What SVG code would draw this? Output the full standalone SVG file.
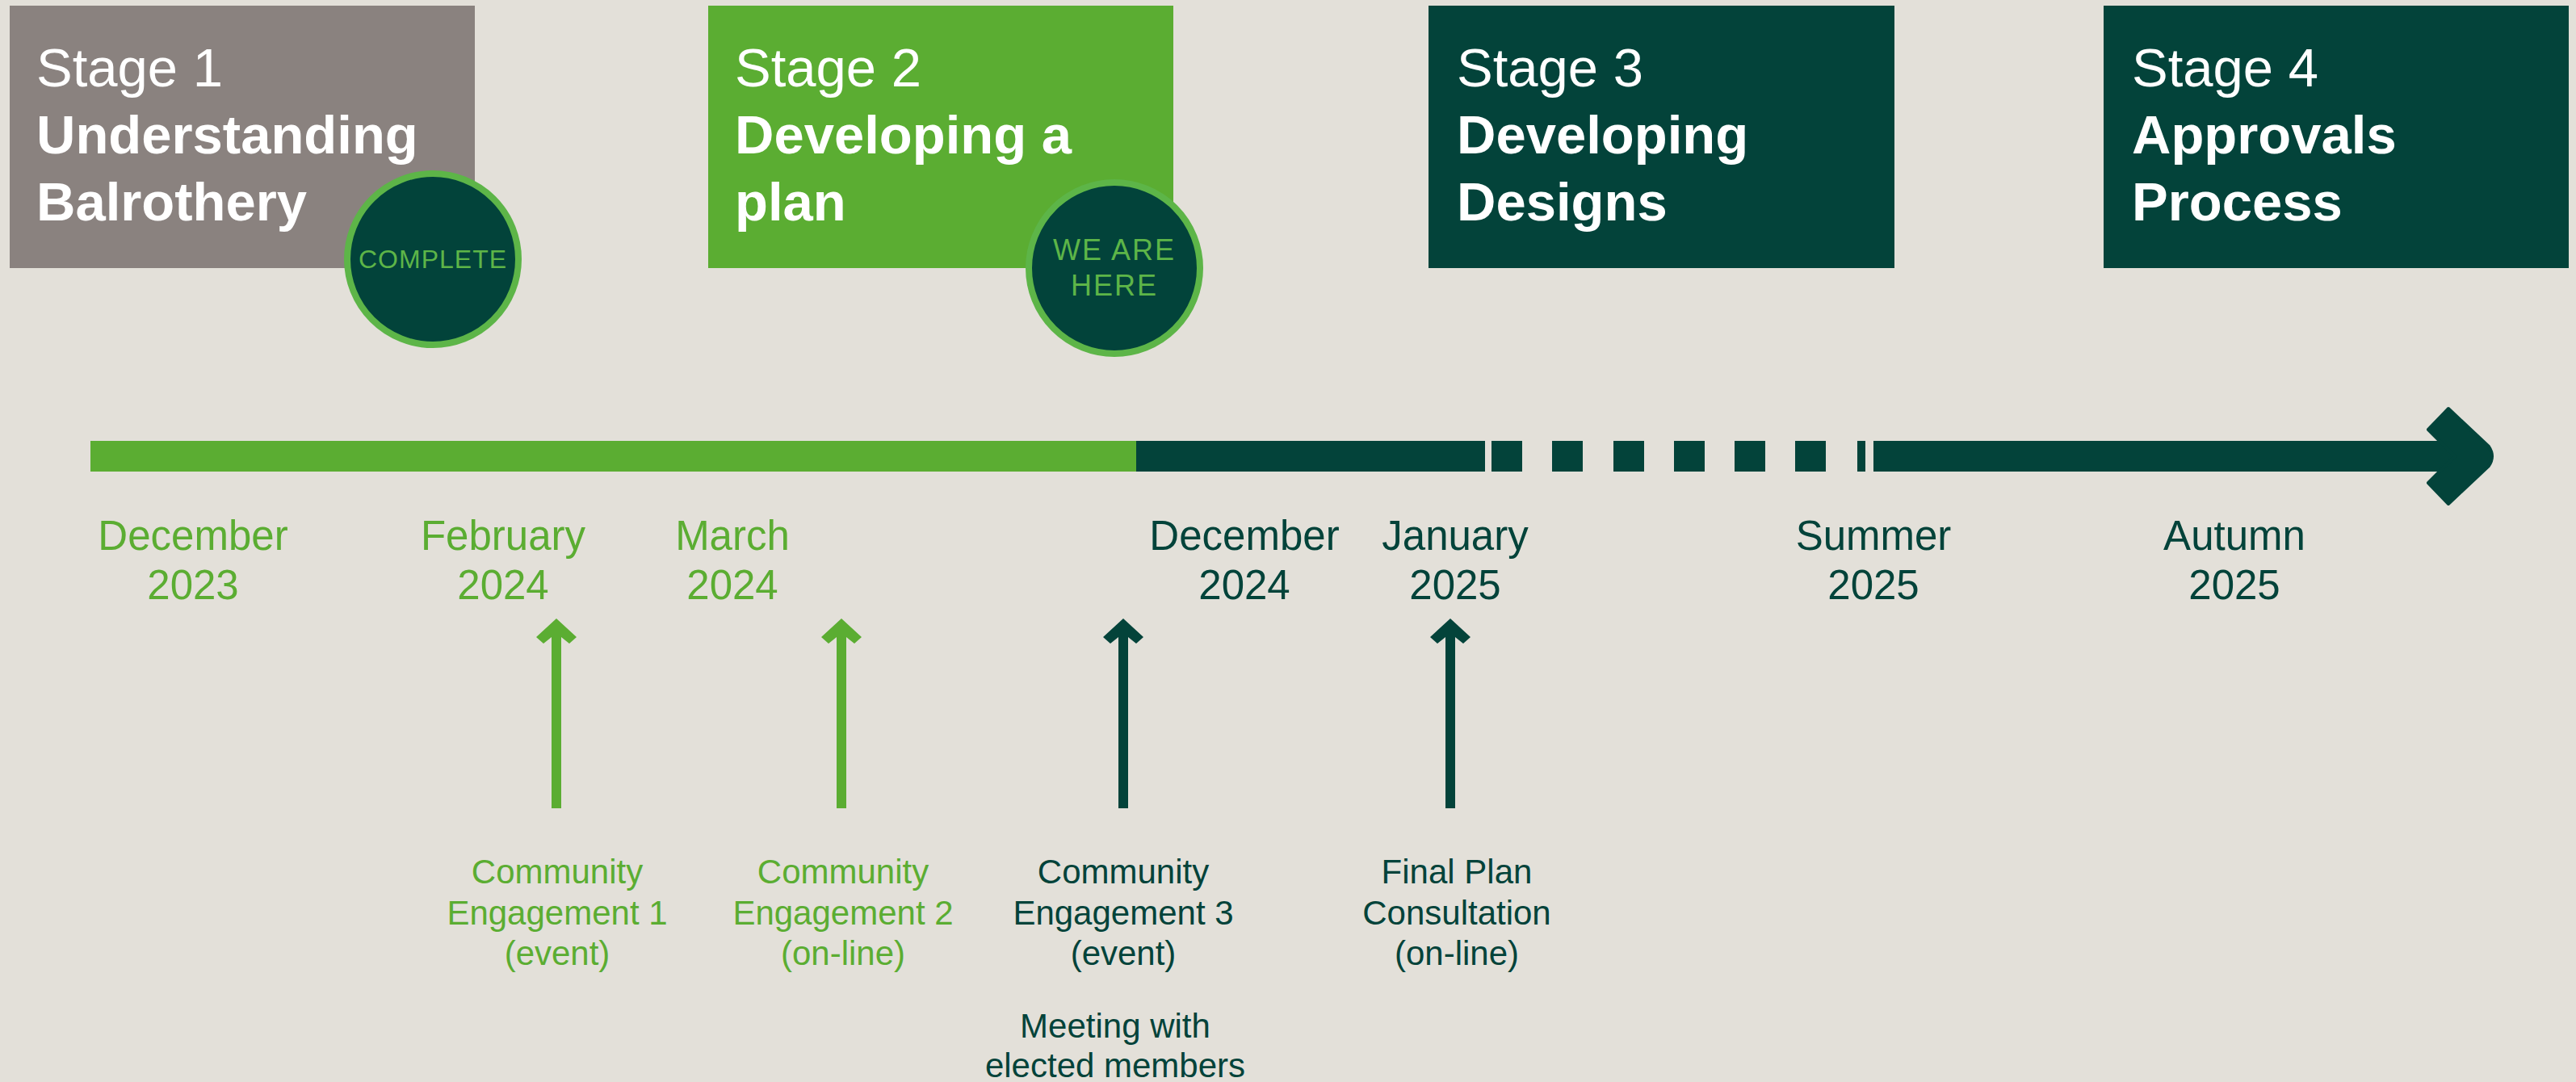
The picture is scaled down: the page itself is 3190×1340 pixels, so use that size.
<svg xmlns="http://www.w3.org/2000/svg" width="3190" height="1340" viewBox="0 0 3190 1340">
<defs>
<style>
.bg{fill:#E3E0D9}
.h1{font-family:"Liberation Sans",Arial,sans-serif;font-size:67px;fill:#FFFFFF}
.h2{font-family:"Liberation Sans",Arial,sans-serif;font-size:67px;font-weight:bold;fill:#FFFFFF}
.badge{fill:#02433A;stroke:#5DB548;stroke-width:8}
.bt{font-family:"Liberation Sans",Arial,sans-serif;fill:#5DB548;text-anchor:middle}
.dt{font-family:"Liberation Sans",Arial,sans-serif;font-size:51px;text-anchor:middle}
.lb{font-family:"Liberation Sans",Arial,sans-serif;font-size:42px;text-anchor:middle}
.g{fill:#5BAD32}
.d{fill:#03433A}
</style>
<polygon id="ah" points="0,0 25,23 16,31 6,23 6,235 -6,235 -6,23 -16,31 -25,23"/>
</defs>
<rect class="bg" x="0" y="0" width="3190" height="1340"/>

<g id="stage1">
<rect x="12" y="7" width="576" height="325" fill="#8A827F"/>
<text class="h1" x="45" y="107">Stage 1</text>
<text class="h2" x="45" y="190">Understanding</text>
<text class="h2" x="45" y="273">Balrothery</text>
</g>
<g id="badge-complete">
<circle class="badge" cx="536" cy="321" r="106"/>
<text class="bt" x="536" y="332" font-size="32" style="letter-spacing:1px">COMPLETE</text>
</g>

<g id="stage2">
<rect x="877" y="7" width="576" height="325" fill="#5BAD32"/>
<text class="h1" x="910" y="107">Stage 2</text>
<text class="h2" x="910" y="190">Developing a</text>
<text class="h2" x="910" y="273">plan</text>
</g>
<g id="badge-here">
<circle class="badge" cx="1380" cy="332" r="106"/>
<text class="bt" x="1380" y="322" font-size="36" style="letter-spacing:2px">WE ARE</text>
<text class="bt" x="1380" y="366" font-size="36" style="letter-spacing:2px">HERE</text>
</g>

<g id="stage3">
<rect x="1769" y="7" width="577" height="325" fill="#03433A"/>
<text class="h1" x="1804" y="107">Stage 3</text>
<text class="h2" x="1804" y="190">Developing</text>
<text class="h2" x="1804" y="273">Designs</text>
</g>

<g id="stage4">
<rect x="2605" y="7" width="576" height="325" fill="#03433A"/>
<text class="h1" x="2640" y="107">Stage 4</text>
<text class="h2" x="2640" y="190">Approvals</text>
<text class="h2" x="2640" y="273">Process</text>
</g>

<g id="timeline">
<rect class="g" x="112" y="546" width="1296" height="38"/>
<rect class="d" x="1407" y="546" width="432" height="38"/>
<rect class="d" x="1847" y="546" width="38" height="38"/>
<rect class="d" x="1922" y="546" width="38" height="38"/>
<rect class="d" x="1998" y="546" width="38" height="38"/>
<rect class="d" x="2073" y="546" width="38" height="38"/>
<rect class="d" x="2148" y="546" width="38" height="38"/>
<rect class="d" x="2223" y="546" width="38" height="38"/>
<rect class="d" x="2300" y="546" width="10" height="38"/>
<rect class="d" x="2320" y="546" width="725" height="38"/>
<path class="d" d="M3032 506 L3082 553 Q3090 565 3082 577 L3032 624 L3007 598 L3040 565 L3007 532 Z" stroke="#03433A" stroke-width="4" stroke-linejoin="round"/>
</g>

<g id="dates">
<text class="dt g" x="239" y="681">December</text>
<text class="dt g" x="239" y="742">2023</text>
<text class="dt g" x="623" y="681">February</text>
<text class="dt g" x="623" y="742">2024</text>
<text class="dt g" x="907" y="681">March</text>
<text class="dt g" x="907" y="742">2024</text>
<text class="dt d" x="1541" y="681">December</text>
<text class="dt d" x="1541" y="742">2024</text>
<text class="dt d" x="1802" y="681">January</text>
<text class="dt d" x="1802" y="742">2025</text>
<text class="dt d" x="2320" y="681">Summer</text>
<text class="dt d" x="2320" y="742">2025</text>
<text class="dt d" x="2767" y="681">Autumn</text>
<text class="dt d" x="2767" y="742">2025</text>
</g>

<g id="connectors">
<use href="#ah" x="689" y="766" class="g"/>
<use href="#ah" x="1042" y="766" class="g"/>
<use href="#ah" x="1391" y="766" class="d"/>
<use href="#ah" x="1796" y="766" class="d"/>
</g>

<g id="event1">
<text class="lb g" x="690" y="1094">Community</text>
<text class="lb g" x="690" y="1145">Engagement 1</text>
<text class="lb g" x="690" y="1195">(event)</text>
</g>
<g id="event2">
<text class="lb g" x="1044" y="1094">Community</text>
<text class="lb g" x="1044" y="1145">Engagement 2</text>
<text class="lb g" x="1044" y="1195">(on-line)</text>
</g>
<g id="event3">
<text class="lb d" x="1391" y="1094">Community</text>
<text class="lb d" x="1391" y="1145">Engagement 3</text>
<text class="lb d" x="1391" y="1195">(event)</text>
<text class="lb d" x="1381" y="1285">Meeting with</text>
<text class="lb d" x="1381" y="1334">elected members</text>
</g>
<g id="event4">
<text class="lb d" x="1804" y="1094">Final Plan</text>
<text class="lb d" x="1804" y="1145">Consultation</text>
<text class="lb d" x="1804" y="1195">(on-line)</text>
</g>
</svg>
